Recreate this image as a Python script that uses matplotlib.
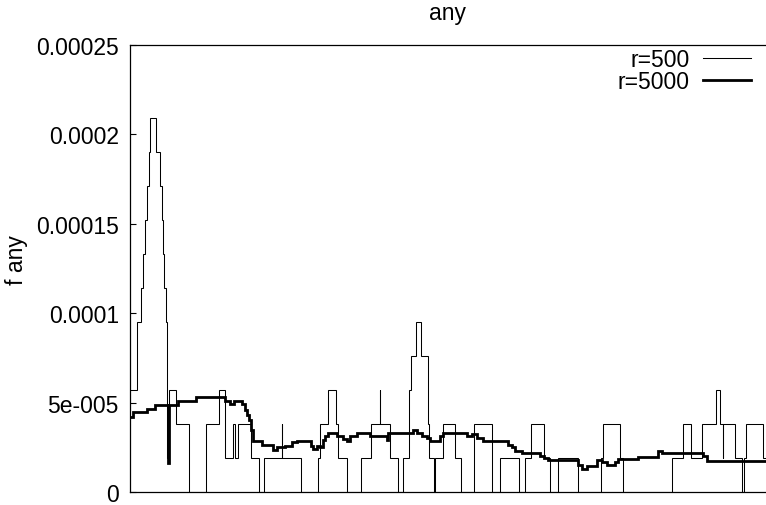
import matplotlib
matplotlib.use("Agg")
import matplotlib.pyplot as plt
import numpy as np

plt.rcParams['font.family'] = ['Liberation Sans', 'DejaVu Sans']

# ---- data (x positions are arbitrary bin positions along the unlabeled x axis) ----
q = 1.9e-5  # count quantum of the r=500 series

r500_edges = [0, 6.5, 11, 13, 15, 17, 18.7, 19.7, 25.7, 30, 31.5, 33.3, 34.3, 35.7, 36.7,
              39.3, 46, 59, 76, 88.5, 95.3, 102.7, 105, 107.7, 121, 129.3, 134.2, 151.5,
              152.2, 170.7, 187.5, 190, 197.7, 206, 208.3, 216.7, 231, 240.7, 249.7, 250.3,
              260, 268, 272.7, 279.3, 281, 286, 291, 297.7, 299.3, 304.3, 305.3, 312.5,
              325.3, 331.3, 344.2, 362.3, 370, 389, 394.7, 400.5, 413.8, 419.6, 428.3,
              447.7, 471, 473.3, 490.2, 492.7, 542, 552.7, 561, 571.7, 586, 590.2, 592.7,
              593.3, 605, 612.3, 614, 616, 633.3, 636]
r500_levels = [3, 5, 6, 7, 8, 9, 10, 11, 10, 9,
               8, 7, 6, 5, 1, 3, 2, 0, 2, 3,
               1, 2, 1, 2, 1, 0, 1, 2, 1, 0,
               1, 2, 3, 2, 1, 0, 1, 2, 3, 2,
               1, 0, 1, 3, 4, 5, 4, 2, 1, 0,
               1, 2, 1, 0, 2, 0, 1, 0, 1, 2,
               1, 0, 1, 0, 1, 2, 1, 0, 1, 2,
               1, 2, 3, 2, 1, 2, 1, 0, 1, 2,
               1]

r5000_edges = [0, 3.3, 16.7, 25, 38.3, 39, 48.3, 66.3, 95, 100, 104, 111.7, 115, 117.3,
               119.3, 121, 122.7, 125, 131.7, 143.3, 146.7, 155, 161.7, 166.7, 181, 183.3,
               186.7, 190, 193.3, 195, 198.3, 206.7, 213.3, 216.7, 220, 226.7, 240, 256.7,
               258.3, 283.3, 286.7, 291.7, 296.7, 300, 310, 313.3, 336.7, 341.7, 346.7,
               352.7, 378.3, 381.7, 385, 391.7, 410, 414.3, 418.3, 447.7, 451.7, 456.7,
               466.7, 471.7, 476.7, 485, 488.3, 508.3, 528.3, 531.7, 573.3, 576.7, 636]
r5000_vals = [4.20, 4.46, 4.65, 4.89, 1.60, 4.89, 5.07, 5.32, 5.07, 4.93,
              5.07, 4.93, 4.61, 4.33, 4.04, 3.48, 2.88, 2.83, 2.64, 2.36,
              2.51, 2.58, 2.77, 2.87, 2.58, 2.40, 2.58, 2.49, 2.92, 3.15,
              3.30, 3.11, 2.96, 2.83, 3.11, 3.30, 3.11, 2.90, 3.30, 3.48,
              3.30, 3.11, 3.02, 2.83, 3.11, 3.30, 3.11, 3.26, 3.02, 2.83,
              2.64, 2.49, 2.27, 2.17, 2.02, 1.89, 1.80, 1.52, 1.28, 1.48,
              1.80, 1.70, 1.52, 1.70, 1.86, 1.95, 2.32, 2.17, 2.02, 1.76]

ytick_vals = [0, 5e-5, 1e-4, 1.5e-4, 2e-4, 2.5e-4]
ytick_labels = ["0", "5e-005", "0.0001", "0.00015", "0.0002", "0.00025"]
series_labels = ["r=500", "r=5000"]
title = "any"
ylabel = "f any"

# ---- figure ----
W, H = 766, 506
fig = plt.figure(figsize=(W / 100, H / 100), dpi=100)
ax = fig.add_axes([130 / W, (H - 493) / H, 636 / W, 447 / H])

fs = 16.5
ax.stairs(np.array(r500_levels) * q, r500_edges, baseline=None,
          color='black', linewidth=0.75, label=series_labels[0])
ax.stairs(np.array(r5000_vals) * 1e-5, r5000_edges, baseline=None,
          color='black', linewidth=2.0, label=series_labels[1])

ax.set_xlim(0, 636)
ax.set_ylim(0, 2.5e-4)
ax.set_xticks([])
ax.set_yticks(ytick_vals)
ax.set_yticklabels(ytick_labels)
ax.tick_params(axis='y', direction='in', length=4, width=0.8, pad=8, labelsize=fs)
ax.spines['right'].set_visible(False)
for s in ['left', 'bottom', 'top']:
    ax.spines[s].set_linewidth(0.9)

ax.set_title(title, fontsize=fs, pad=19)
ax.set_ylabel(ylabel, fontsize=fs)
ax.yaxis.set_label_coords(-0.16, 0.52)

ax.legend(loc='upper right', bbox_to_anchor=(0.9764, 0.994), frameon=False,
          markerfirst=False, fontsize=fs, handlelength=2.1, handletextpad=0.57,
          labelspacing=-0.05, borderpad=0, borderaxespad=0)

fig.savefig("out.png", dpi=100)
